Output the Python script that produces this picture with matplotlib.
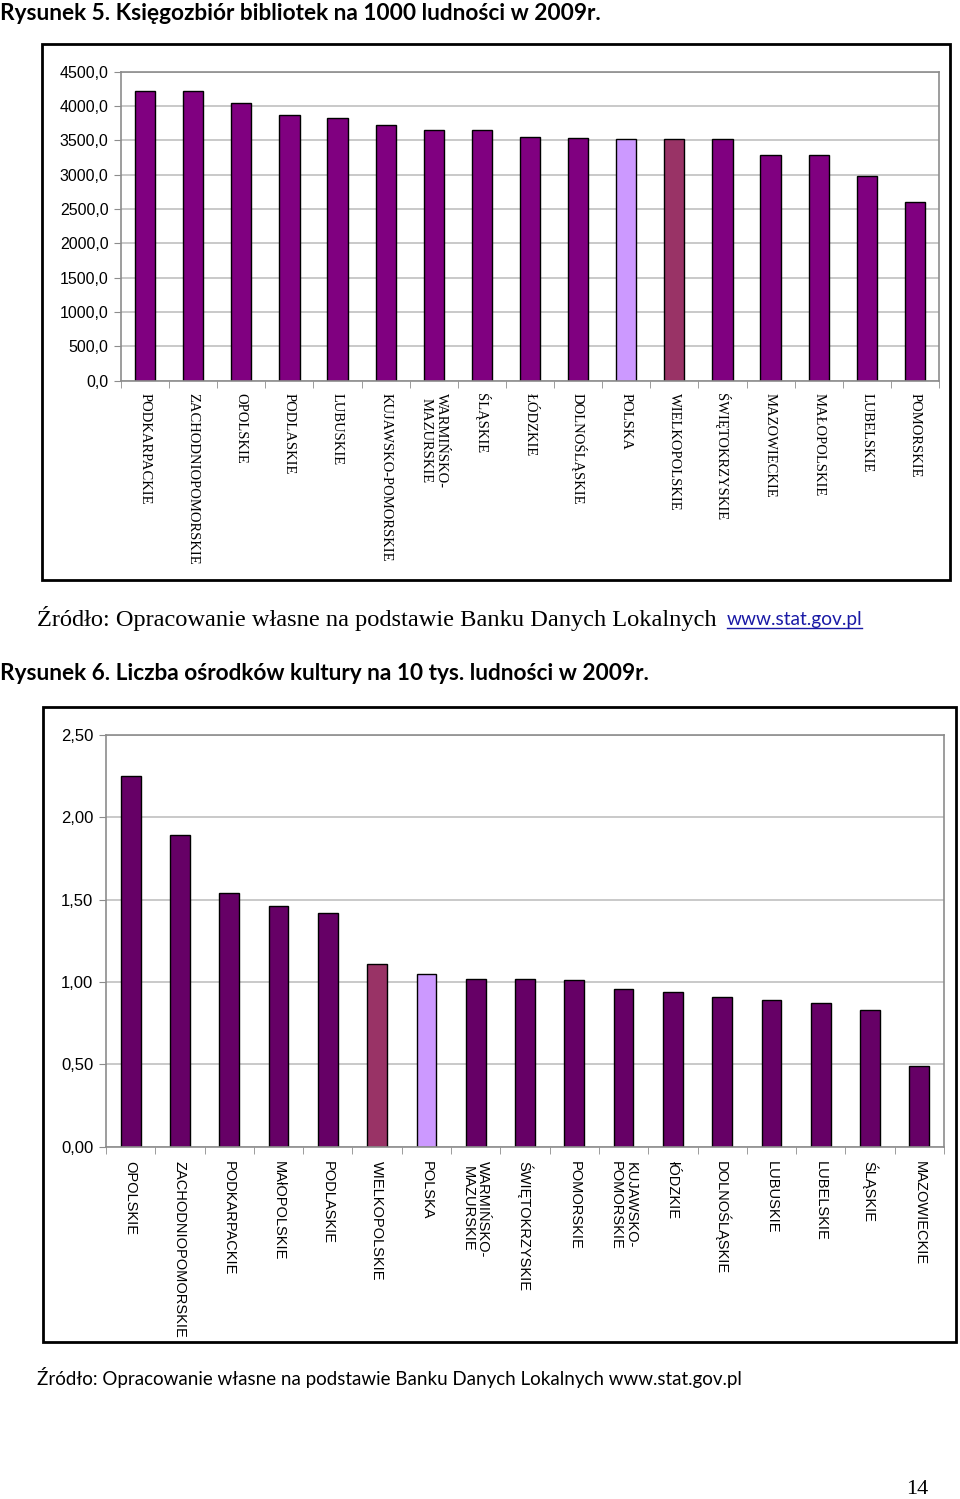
import numpy as np
import matplotlib.pyplot as plt
from matplotlib.patches import Rectangle

# Rysunek 5 - ksiegozbior na 1000 ludnosci
regiony5 = ["PODKARPACKIE", "ZACHODNIOPOMORSKIE", "OPOLSKIE", "PODLASKIE", "LUBUSKIE",
            "KUJAWSKO-POMORSKIE", "WARMIŃSKO-\nMAZURSKIE", "ŚLĄSKIE", "ŁÓDZKIE",
            "DOLNOŚLĄSKIE", "POLSKA", "WIELKOPOLSKIE", "ŚWIĘTOKRZYSKIE", "MAZOWIECKIE",
            "MAŁOPOLSKIE", "LUBELSKIE", "POMORSKIE"]
ksiegozbior = [4219, 4219, 4048, 3874, 3821, 3724, 3651, 3651, 3553,
               3534, 3515, 3515, 3515, 3287, 3287, 2985, 2602]
yticks5 = [0, 500, 1000, 1500, 2000, 2500, 3000, 3500, 4000, 4500]

# Rysunek 6 - osrodki kultury na 10 tys. ludnosci
regiony6 = ["OPOLSKIE", "ZACHODNIOPOMORSKIE", "PODKARPACKIE", "MAłOPOLSKIE", "PODLASKIE",
            "WIELKOPOLSKIE", "POLSKA", "WARMIŃSKO-\nMAZURSKIE", "ŚWIĘTOKRZYSKIE", "POMORSKIE",
            "KUJAWSKO-\nPOMORSKIE", "łÓDZKIE", "DOLNOŚLĄSKIE", "LUBUSKIE", "LUBELSKIE",
            "ŚLĄSKIE", "MAZOWIECKIE"]
osrodki = [2.25, 1.89, 1.54, 1.46, 1.42, 1.11, 1.05, 1.02, 1.02, 1.01,
           0.96, 0.94, 0.91, 0.89, 0.87, 0.83, 0.49]
yticks6 = [0, 0.5, 1.0, 1.5, 2.0, 2.5]

W, H = 960, 1499
fig = plt.figure(figsize=(W / 100, H / 100), dpi=100)


def box(x0, y0, x1, y1):
    # pixel coords (top-left origin) -> figure fraction
    return [x0 / W, 1 - y1 / H, (x1 - x0) / W, (y1 - y0) / H]


def colors_for(labels, base):
    out = []
    for lab in labels:
        if lab == "POLSKA":
            out.append("#CC99FF")
        elif lab == "WIELKOPOLSKIE":
            out.append("#993366")
        else:
            out.append(base)
    return out


def style_axes(ax, n):
    for s in ax.spines.values():
        s.set_color("#8c8c8c")
        s.set_linewidth(1.2)
    ax.set_xlim(-0.5, n - 0.5)
    ax.yaxis.grid(True, color="#c0c0c0", linewidth=1.2)
    ax.set_axisbelow(True)
    ax.tick_params(axis="y", length=5, color="#8c8c8c", pad=4)
    ax.tick_params(axis="x", which="major", length=0)
    ax.set_xticks(np.arange(n + 1) - 0.5, minor=True)
    ax.tick_params(axis="x", which="minor", length=5, color="#8c8c8c")


# frames
fig.add_artist(Rectangle((42 / W, 1 - 580 / H), (950 - 42) / W, (580 - 44) / H,
                         transform=fig.transFigure, fill=False, edgecolor="black", linewidth=2))
fig.add_artist(Rectangle((43 / W, 1 - 1342 / H), (956 - 43) / W, (1342 - 707) / H,
                         transform=fig.transFigure, fill=False, edgecolor="black", linewidth=2))

# --- chart 1
ax1 = fig.add_axes(box(121, 71.7, 939, 380.7))
x5 = np.arange(len(regiony5))
ax1.bar(x5, ksiegozbior, width=0.42, color=colors_for(regiony5, "#800080"),
        edgecolor="black", linewidth=1)
ax1.set_ylim(0, 4500)
ax1.set_yticks(yticks5)
ax1.set_yticklabels([f"{v:.1f}".replace(".", ",") for v in yticks5],
                    fontsize=11.5, family="Liberation Sans")
style_axes(ax1, len(regiony5))
ax1.set_xticks(x5)
ax1.set_xticklabels(regiony5, rotation=270, va="top", ha="center",
                    fontsize=10.5, family="Liberation Serif", linespacing=1.15)
ax1.tick_params(axis="x", which="major", pad=9)

# --- chart 2
ax2 = fig.add_axes(box(106, 735, 944, 1146.7))
x6 = np.arange(len(regiony6))
ax2.bar(x6, osrodki, width=0.4, color=colors_for(regiony6, "#660066"),
        edgecolor="black", linewidth=1)
ax2.set_ylim(0, 2.5)
ax2.set_yticks(yticks6)
ax2.set_yticklabels([f"{v:.2f}".replace(".", ",") for v in yticks6],
                    fontsize=12, family="Liberation Sans")
style_axes(ax2, len(regiony6))
ax2.set_xticks(x6)
ax2.set_xticklabels(regiony6, rotation=270, va="top", ha="center",
                    fontsize=10.5, family="Liberation Sans", linespacing=1.1)
ax2.tick_params(axis="x", which="major", pad=10)

# page texts
fig.text(0 / W, 1 - 13 / H, "Rysunek 5. Księgozbiór bibliotek na 1000 ludności w 2009r.",
         fontsize=16.3, fontweight="bold", family="Lato", va="center", ha="left")
fig.text(37 / W, 1 - 618 / H, "Źródło: Opracowanie własne na podstawie Banku Danych Lokalnych",
         fontsize=17.6, family="Liberation Serif", va="center", ha="left")
fig.text(727 / W, 1 - 619 / H, "www.stat.gov.pl", fontsize=13.8, family="Lato",
         color="#1a1aa6", va="center", ha="left")
fig.add_artist(plt.Line2D([727 / W, 862 / W], [1 - 628 / H, 1 - 628 / H],
                          color="#1a1aa6", linewidth=1))
fig.text(0 / W, 1 - 673 / H, "Rysunek 6. Liczba ośrodków kultury na 10 tys. ludności w 2009r.",
         fontsize=16.3, fontweight="bold", family="Lato", va="center", ha="left")
fig.text(37 / W, 1 - 1377 / H,
         "Źródło: Opracowanie własne na podstawie Banku Danych Lokalnych www.stat.gov.pl",
         fontsize=13.5, family="Lato", va="center", ha="left")
fig.text(928 / W, 1 - 1489 / H, "14", fontsize=16, family="Liberation Serif",
         va="center", ha="right")

fig.savefig("out.png", dpi=100)
